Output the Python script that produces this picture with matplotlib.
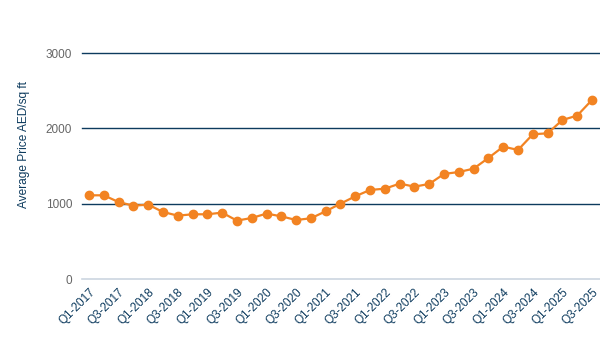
import numpy as np
import matplotlib.pyplot as plt

plt.rcParams['font.family'] = ['Liberation Sans', 'DejaVu Sans']

quarters = []
for yr in range(2017, 2026):
    for q in range(1, 5):
        if yr == 2025 and q > 3:
            break
        quarters.append('Q%d-%d' % (q, yr))

prices = [1111, 1111, 1022, 973, 987, 890, 841, 859, 859, 881, 775, 810,
          868, 832, 783, 806, 899, 1000, 1098, 1182, 1199, 1266, 1226, 1262,
          1395, 1420, 1465, 1607, 1757, 1713, 1921, 1934, 2111, 2169, 2377]

yticks = [0, 1000, 2000, 3000]

navy = '#0d3b5e'
orange = '#f28322'

fig = plt.figure(figsize=(6, 3.47), dpi=100)
ax = fig.add_axes([82/600, 68/347, 518/600, 226/347])

x = np.arange(len(quarters))
ax.plot(x, prices, color=orange, lw=1.6, marker='o', ms=6, zorder=3)

ax.set_ylim(0, 3000)
ax.set_xlim(-0.47, 34.54)
ax.set_yticks(yticks)
ax.set_yticklabels([str(v) for v in yticks], color='#666666', fontsize=8.5)
for v in yticks[1:]:
    ax.axhline(v, color=navy, lw=1, zorder=1, clip_on=False)
ax.axhline(0, color='#ccd6e0', lw=1.2, zorder=1, clip_on=False)

ax.set_xticks(x[::2])
ax.set_xticklabels(quarters[::2], rotation=45, ha='right', rotation_mode='anchor',
                   color=navy, fontsize=8.5)
ax.tick_params(axis='both', length=0, pad=7)
ax.tick_params(axis='x', pad=5)

for s in ax.spines.values():
    s.set_visible(False)

ax.set_ylabel('Average Price AED/sq ft', color=navy, fontsize=8.6)
ax.yaxis.set_label_coords(-0.101, 0.597)

fig.savefig('out.png', dpi=100)
